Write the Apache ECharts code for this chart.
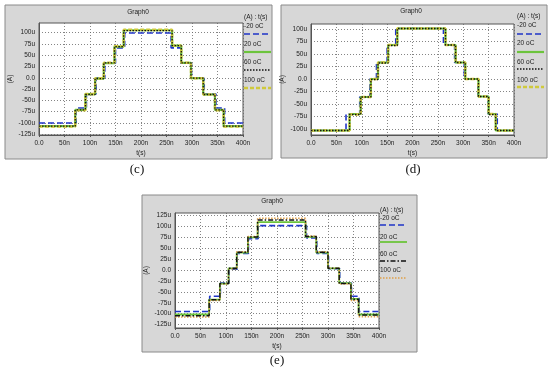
<!DOCTYPE html>
<html><head><meta charset="utf-8">
<script src="https://cdn.jsdelivr.net/npm/echarts@6/dist/echarts.min.js"></script>
<style>html,body{margin:0;padding:0;background:#fff}#c{width:550px;height:374px}</style>
</head><body><div id="c"></div>
<script>
// ---- data ----
const seriesNames = ['-20 oC', '20 oC', '60 oC', '100 oC'];
const xTickValues = [0, 50, 100, 150, 200, 250, 300, 350, 400];
const yTicksC = [-125, -100, -75, -50, -25, 0, 25, 50, 75, 100];
const yTicksD = [-100, -75, -50, -25, 0, 25, 50, 75, 100];
const yTicksE = [-125, -100, -75, -50, -25, 0, 25, 50, 75, 100, 125];

// panel (c): change times (ns) and held levels (uA)
const timesC_blue  = [0, 73, 93, 112, 129, 150, 168, 259, 278, 299, 324, 347, 364, 400];
const timesC_other = [0, 71, 91, 110, 127, 148, 166, 261, 279, 298, 322, 345, 362, 400];
const levelsC_m20  = [-100, -67, -36, 0, 32, 66, 99, 66, 32, -1, -36, -67, -100, -100];
const levelsC_20   = [-107, -71, -36, -2, 32, 69, 105, 71, 33, -1, -37, -71, -107, -107];
const levelsC_60   = [-107, -71, -37, -2, 33, 69, 104, 71, 33, -1, -37, -71, -107, -107];
const levelsC_100  = [-108, -72, -36, -1, 33, 70, 106, 71, 33, -1, -37, -72, -108, -108];

// panel (d)
const timesD_blue  = [0, 69, 96, 116, 129, 150, 167, 261, 283, 302, 329, 349, 367, 400];
const timesD_other = [0, 76, 98, 118, 132, 152, 170, 265, 285, 304, 330, 350, 364, 400];
const levelsD_m20  = [-103, -70, -36, 0, 33, 68, 101, 68, 33, 0, -35, -70, -103, -103];
const levelsD_20   = [-103, -70, -36, 0, 33, 68, 101, 68, 33, 0, -35, -70, -103, -103];
const levelsD_60   = [-103, -71, -36, -1, 32, 67, 101, 68, 33, 0, -35, -71, -103, -103];
const levelsD_100  = [-103, -71, -36, 0, 33, 68, 101, 68, 33, 0, -35, -70, -103, -103];

// panel (e)
const timesE_blue  = [0, 68, 89, 106, 122, 144, 163, 258, 278, 301, 323, 346, 361, 400];
const timesE_other = [0, 67, 88, 105, 121, 143, 162, 256, 277, 300, 322, 345, 360, 400];
const levelsE_m20  = [-95, -60, -30, 2, 38, 72, 102, 74, 38, 3, -30, -60, -95, -95];
const levelsE_20   = [-102, -68, -31, 4, 40, 75, 110, 76, 40, 4, -30, -66, -102, -102];
const levelsE_60   = [-105, -68, -31, 4, 41, 76, 115, 77, 41, 4, -31, -67, -103, -103];
const levelsE_100  = [-108, -70, -32, 3, 42, 77, 119, 78, 42, 4, -32, -70, -107, -107];

// ---- layout / styles ----
const zip = (t, v) => t.map((x, i) => [x, v[i]]);
const FONT = 'Liberation Sans, Arial, sans-serif';
const panels = [
  { frame: [5, 5, 267, 154], grid: { left: 39, top: 23, width: 204, height: 112 }, yMin: -126.5, yMax: 121, yTicks: yTicksC,
    title: [138, 12], legX: 244, legY: [17, 26, 34, 44, 52, 62, 70, 80, 88], tag: ['(c)', 137, 170],
    data: [zip(timesC_blue, levelsC_m20), zip(timesC_other, levelsC_20), zip(timesC_other, levelsC_60), zip(timesC_other, levelsC_100)],
    style: 'cd' },
  { frame: [281, 5, 266, 153], grid: { left: 311, top: 24, width: 203, height: 111 }, yMin: -112, yMax: 110, yTicks: yTicksD,
    title: [411, 11], legX: 517, legY: [16, 25, 34, 43, 52, 62, 69, 80, 87], tag: ['(d)', 413, 170],
    data: [zip(timesD_blue, levelsD_m20), zip(timesD_other, levelsD_20), zip(timesD_other, levelsD_60), zip(timesD_other, levelsD_100)],
    style: 'cd' },
  { frame: [142, 195, 275, 157], grid: { left: 175, top: 213, width: 204, height: 115 }, yMin: -133, yMax: 131, yTicks: yTicksE,
    title: [272, 201], legX: 380, legY: [210, 218, 225, 237, 242, 254, 261, 270, 278], tag: ['(e)', 277, 361],
    data: [zip(timesE_blue, levelsE_m20), zip(timesE_other, levelsE_20), zip(timesE_other, levelsE_60), zip(timesE_other, levelsE_100)],
    style: 'e' }
];
const lineStyles = {
  cd: [
    { color: '#1f35c8', width: 1.6, type: [6, 3] },
    { color: '#6cc43c', width: 2.2, type: 'solid' },
    { color: '#111111', width: 1.3, type: [1.5, 1.5] },
    { color: '#cfc93c', width: 2.4, type: [4, 2] }
  ],
  e: [
    { color: '#1f35c8', width: 1.6, type: [6, 3] },
    { color: '#6cc43c', width: 1.8, type: 'solid' },
    { color: '#111111', width: 1.4, type: [5, 2, 1.5, 2] },
    { color: '#e0a048', width: 1.5, type: [1.5, 1.5] }
  ]
};
const drawOrder = [0, 1, 3, 2];

const grids = [], xAxes = [], yAxes = [], series = [], graphics = [];
const fmtX = v => v === 0 ? '0.0' : v + 'n';
const fmtY = v => v === 0 ? '0.0' : v + 'u';
panels.forEach((p, pi) => {
  grids.push(Object.assign({ show: true, backgroundColor: '#ffffff', borderColor: '#555', borderWidth: 1, containLabel: false }, p.grid));
  xAxes.push({
    type: 'value', gridIndex: pi, min: 0, max: 400, interval: 50,
    name: 't(s)', nameLocation: 'middle', nameGap: 15, nameTextStyle: { fontSize: 6.5, fontFamily: FONT, color: '#222' },
    axisLine: { show: true, onZero: false, lineStyle: { color: '#555', width: 1 } },
    axisTick: { show: true, length: 2, lineStyle: { color: '#555' } },
    axisLabel: { formatter: fmtX, fontSize: 6.5, fontFamily: FONT, color: '#222', margin: 5 },
    splitLine: { show: true, lineStyle: { type: [1, 2], color: '#666', width: 0.8 } }
  });
  yAxes.push({
    type: 'value', gridIndex: pi, min: p.yMin, max: p.yMax,
    name: '(A)', nameLocation: 'middle', nameGap: 25, nameRotate: 90, nameTextStyle: { fontSize: 6.5, fontFamily: FONT, color: '#222' },
    axisLine: { show: true, onZero: false, lineStyle: { color: '#555', width: 1 } },
    axisTick: { show: false, customValues: p.yTicks },
    axisLabel: { customValues: p.yTicks, formatter: fmtY, fontSize: 6.5, fontFamily: FONT, color: '#222', margin: 4 },
    splitLine: { show: true, lineStyle: { type: [1, 2], color: '#666', width: 0.8 } }
  });
  drawOrder.forEach((si, k) => {
    const ls = lineStyles[p.style][si];
    series.push({
      type: 'line', name: seriesNames[si], xAxisIndex: pi, yAxisIndex: pi, step: 'end',
      data: p.data[si], showSymbol: false, symbol: 'none', z: 2 + k,
      lineStyle: { color: ls.color, width: ls.width, type: ls.type }, animation: false
    });
  });
  const [fx, fy, fw, fh] = p.frame;
  graphics.push({ type: 'rect', z: -10, shape: { x: fx, y: fy, width: fw, height: fh }, style: { fill: '#d7d7d7', stroke: '#8a8a8a', lineWidth: 1 } });
  graphics.push({ type: 'text', z: 10, x: p.title[0], y: p.title[1], style: { text: 'Graph0', font: '6.5px ' + FONT, fill: '#222', textAlign: 'center', textVerticalAlign: 'middle' } });
  graphics.push({ type: 'text', z: 10, x: p.legX, y: p.legY[0], style: { text: '(A) : t(s)', font: '6.5px ' + FONT, fill: '#222', textVerticalAlign: 'middle' } });
  [0, 1, 2, 3].forEach(si => {
    const ls = lineStyles[p.style][si];
    graphics.push({ type: 'text', z: 10, x: p.legX, y: p.legY[1 + si * 2], style: { text: seriesNames[si], font: '6.5px ' + FONT, fill: '#222', textVerticalAlign: 'middle' } });
    graphics.push({ type: 'line', z: 10, shape: { x1: p.legX, y1: p.legY[2 + si * 2], x2: p.legX + 27, y2: p.legY[2 + si * 2] },
      style: { stroke: ls.color, lineWidth: ls.width, lineDash: ls.type === 'solid' ? null : ls.type } });
  });
  graphics.push({ type: 'text', z: 10, x: p.tag[1], y: p.tag[2], style: { text: p.tag[0], font: '13px "Liberation Serif", serif', fill: '#111', textAlign: 'center', textVerticalAlign: 'middle' } });
});

const chart = echarts.init(document.getElementById('c'), null, { renderer: 'canvas' });
chart.setOption({
  animation: false,
  backgroundColor: '#ffffff',
  grid: grids, xAxis: xAxes, yAxis: yAxes, series: series,
  graphic: { elements: graphics }
});
</script></body></html>
